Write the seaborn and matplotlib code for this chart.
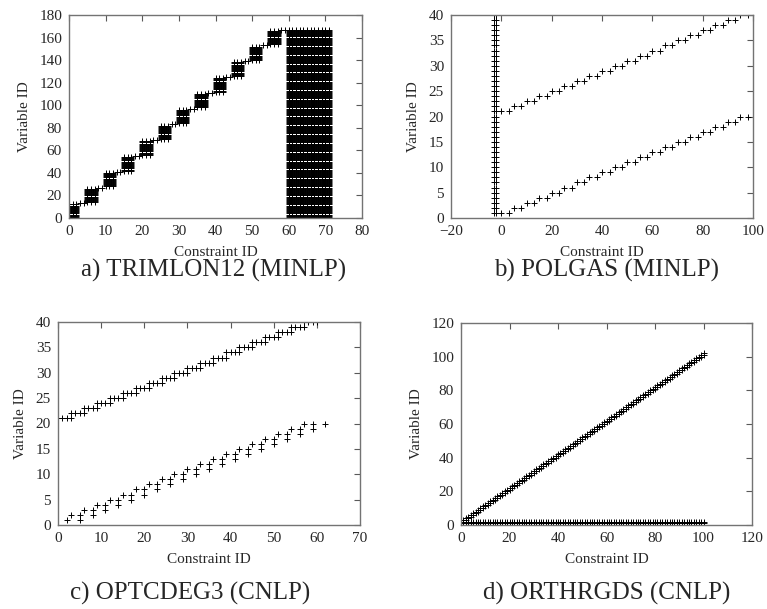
import numpy as np
import pandas as pd
import matplotlib
matplotlib.use("Agg")
import matplotlib.pyplot as plt
import seaborn as sns

# ------------------------
# Sparsity data (constraint ID, variable ID)
# ------------------------

# a) TRIMLON12: 12 diagonal blocks of 3 constraints x 13 variables,
#    two single-variable constraints after each block, then 12 dense rows
trim_block_con = [0, 5, 10, 15, 20, 25, 30, 35, 40, 45, 50, 55]
trim_block_var = [0, 14, 28, 42, 56, 70, 84, 98, 112, 126, 140, 154]
trim_block_ncon = 3
trim_block_nvar = 13
trim_link_con = [3, 8, 13, 18, 23, 28, 33, 38, 43, 48, 53, 58]
trim_link_var = [13, 27, 41, 55, 69, 83, 97, 111, 125, 139, 153, 167]
trim_dense_con = [60, 61, 62, 63, 64, 65, 66, 67, 68, 69, 70, 71]
trim_n_var = 168

# b) POLGAS: a dense column near -3 plus two staircases
polgas_col_con = [-3, -2]
polgas_col_var = list(range(1, 41))
polgas_step_con = [0, 3, 5, 8, 10, 13, 15, 18, 20, 23, 25, 28, 30, 33, 35, 38,
                   40, 43, 45, 48, 50, 53, 55, 58, 60, 63, 65, 68, 70, 73, 75, 78,
                   80, 83, 85, 88, 90, 93, 95, 98]
polgas_low_var = [1, 1, 2, 2, 3, 3, 4, 4, 5, 5, 6, 6, 7, 7, 8, 8, 9, 9, 10, 10,
                  11, 11, 12, 12, 13, 13, 14, 14, 15, 15, 16, 16, 17, 17, 18, 18,
                  19, 19, 20, 20]
polgas_up_var = [21, 21, 22, 22, 23, 23, 24, 24, 25, 25, 26, 26, 27, 27, 28, 28,
                 29, 29, 30, 30, 31, 31, 32, 32, 33, 33, 34, 34, 35, 35, 36, 36,
                 37, 37, 38, 38, 39, 39, 40, 40]

# c) OPTCDEG3
opt_low_con = [2, 3, 5, 5, 6, 8, 8, 9, 11, 11, 12, 14, 14, 15, 17, 17, 18, 20, 20,
               21, 23, 23, 24, 26, 26, 27, 29, 29, 30, 32, 32, 33, 35, 35, 36, 38,
               38, 39, 41, 41, 42, 44, 44, 45, 47, 47, 48, 50, 50, 51, 53, 53, 54,
               56, 56, 57, 59, 59, 62]
opt_low_var = [1, 2, 2, 1, 3, 3, 2, 4, 4, 3, 5, 5, 4, 6, 6, 5, 7, 7, 6, 8, 8, 7,
               9, 9, 8, 10, 10, 9, 11, 11, 10, 12, 12, 11, 13, 13, 12, 14, 14, 13,
               15, 15, 14, 16, 16, 15, 17, 17, 16, 18, 18, 17, 19, 19, 18, 20, 20,
               19, 20]
opt_up_first_con = [0, 3, 6, 9, 12, 15, 18, 21, 24, 27, 30, 33, 36, 39, 42, 45,
                    48, 51, 54, 57]
opt_up_var = [21, 22, 23, 24, 25, 26, 27, 28, 29, 30, 31, 32, 33, 34, 35, 36,
              37, 38, 39, 40]
opt_up_run = 4

# d) ORTHRGDS
orth_con = list(range(0, 101))
orth_diag_offset = [1, 2]
orth_base_var = [1, 2]


def trimlon_frame():
    rows = []
    for c0, v0 in zip(trim_block_con, trim_block_var):
        for c in range(c0, c0 + trim_block_ncon):
            for v in range(v0, v0 + trim_block_nvar):
                rows.append((c, v))
    for c0, v in zip(trim_link_con, trim_link_var):
        rows.append((c0, v))
        rows.append((c0 + 1, v))
    for c in trim_dense_con:
        for v in range(trim_n_var):
            rows.append((c, v))
    return pd.DataFrame(rows, columns=["con", "var"])


def polgas_frame():
    rows = [(c, v) for c in polgas_col_con for v in polgas_col_var]
    rows += list(zip(polgas_step_con, polgas_low_var))
    rows += list(zip(polgas_step_con, polgas_up_var))
    return pd.DataFrame(rows, columns=["con", "var"])


def optcdeg_frame():
    rows = list(zip(opt_low_con, opt_low_var))
    for c0, v in zip(opt_up_first_con, opt_up_var):
        for c in range(c0, c0 + opt_up_run):
            rows.append((c, v))
    return pd.DataFrame(rows, columns=["con", "var"])


def orth_frame():
    rows = []
    for c in orth_con:
        for off in orth_diag_offset:
            rows.append((c, c + off))
        for v in orth_base_var:
            rows.append((c, v))
    return pd.DataFrame(rows, columns=["con", "var"])


# ------------------------
# Figure
# ------------------------
sns.set_style("white")
plt.rcParams["font.family"] = ["Liberation Serif", "DejaVu Serif"]

W, H = 767, 609
fig = plt.figure(figsize=(W / 100, H / 100), dpi=100)


def px_axes(l, t, r, b):
    return fig.add_axes([l / W, 1 - b / H, (r - l) / W, (b - t) / H])


def spy(ax, df, xlim, ylim, xticks, yticks):
    sns.scatterplot(data=df, x="con", y="var", marker="+", color="black",
                    s=16, linewidth=0.7, ax=ax, legend=False)
    ax.set_xlim(*xlim)
    ax.set_ylim(*ylim)
    ax.set_xticks(xticks)
    ax.set_yticks(yticks)
    ax.set_xlabel("Constraint ID", fontsize=11, labelpad=6)
    ax.set_ylabel("Variable ID", fontsize=11, labelpad=6)
    ax.tick_params(direction="in", top=True, right=True, length=4,
                   width=0.8, color="0.35", labelsize=11, pad=5)
    for sp in ax.spines.values():
        sp.set_color("0.45")
        sp.set_linewidth(1.0)


ax_a = px_axes(69, 15, 362, 218)
spy(ax_a, trimlon_frame(), (0, 80), (0, 180),
    range(0, 81, 10), range(0, 181, 20))

ax_b = px_axes(451, 15, 753, 218)
spy(ax_b, polgas_frame(), (-20, 100), (0, 40),
    range(-20, 101, 20), range(0, 41, 5))

ax_c = px_axes(58, 322, 360, 525)
spy(ax_c, optcdeg_frame(), (0, 70), (0, 40),
    range(0, 71, 10), range(0, 41, 5))

ax_d = px_axes(461, 323, 752, 525)
spy(ax_d, orth_frame(), (0, 120), (0, 120),
    range(0, 121, 20), range(0, 121, 20))

fig.text(214 / W, 1 - 270 / H, "a) TRIMLON12 (MINLP)", ha="center", va="center", fontsize=18)
fig.text(607 / W, 1 - 270 / H, "b) POLGAS (MINLP)", ha="center", va="center", fontsize=18)
fig.text(190 / W, 1 - 593 / H, "c) OPTCDEG3 (CNLP)", ha="center", va="center", fontsize=18)
fig.text(607 / W, 1 - 593 / H, "d) ORTHRGDS (CNLP)", ha="center", va="center", fontsize=18)

fig.savefig("out.png", dpi=100)
plt.close(fig)
